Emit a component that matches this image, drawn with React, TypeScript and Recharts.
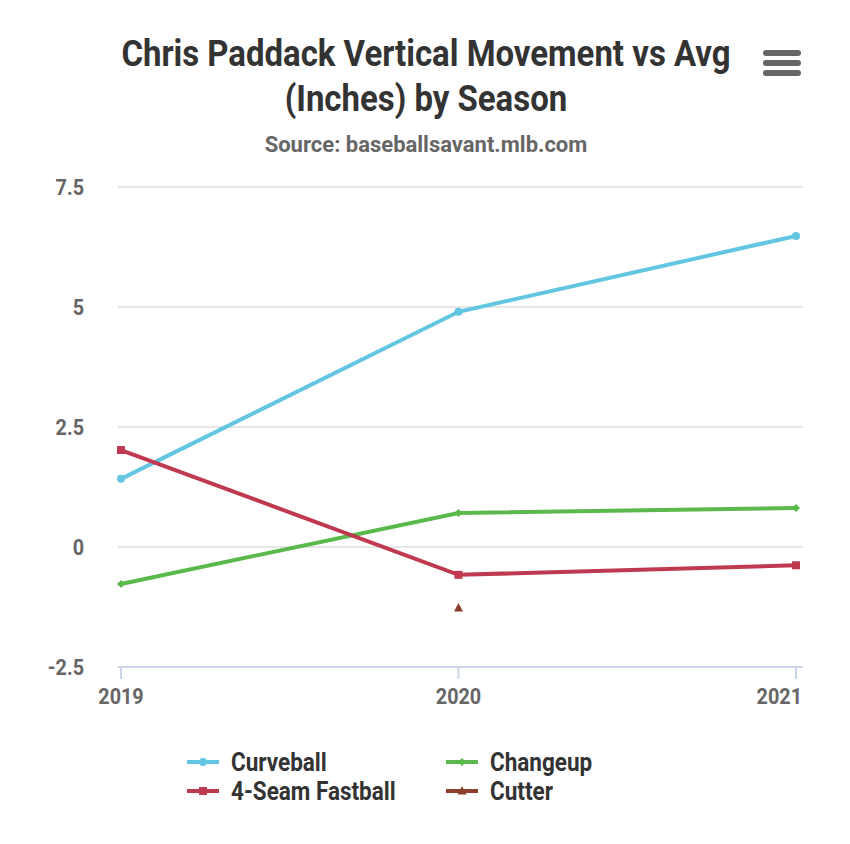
import React from "react"
import { LineChart, Line, XAxis, YAxis, CartesianGrid } from "recharts"

const seasons = ["2019", "2020", "2021"]
const curveball = [1.42, 4.9, 6.48]
const fastball = [2.02, -0.58, -0.38]
const changeup = [-0.77, 0.71, 0.81]
const cutter = [null, -1.27, null]
const yTicks = [-2.5, 0, 2.5, 5, 7.5]

// no condensed Roboto offline, so squeeze plain Roboto a bit
const FONT = "Roboto, sans-serif"
const SQ = 0.9

const data = seasons.map((s, i) => ({
  season: s,
  curveball: curveball[i],
  fastball: fastball[i],
  changeup: changeup[i],
  cutter: cutter[i],
}))

const series = [
  { key: "curveball", name: "Curveball", color: "#63c6e1", shape: "circle" },
  { key: "changeup", name: "Changeup", color: "#5bb84c", shape: "diamond" },
  { key: "fastball", name: "4-Seam Fastball", color: "#bf3a50", shape: "square" },
  { key: "cutter", name: "Cutter", color: "#8c3f2a", shape: "triangle" },
]

function marker(shape: string, color: string) {
  return (props: any) => {
    const { cx, cy, index } = props
    if (cx == null || cy == null || props.value == null) return <g key={index} />
    if (shape === "circle") return <circle key={index} cx={cx} cy={cy} r={4} fill={color} />
    if (shape === "square") return <rect key={index} x={cx - 4} y={cy - 4} width={8} height={8} fill={color} />
    if (shape === "diamond")
      return <path key={index} d={`M${cx} ${cy - 4}L${cx + 4} ${cy}L${cx} ${cy + 4}L${cx - 4} ${cy}Z`} fill={color} />
    return <path key={index} d={`M${cx} ${cy - 5}L${cx + 4.5} ${cy + 3.5}L${cx - 4.5} ${cy + 3.5}Z`} fill={color} />
  }
}

// last label is pulled in so it doesn't overflow the plot (like highcharts does)
const XTick = (props: any) => {
  const last = props.index === seasons.length - 1
  return (
    <g transform={`translate(${last ? props.x + 6 : props.x},${props.y}) scale(${SQ},1)`}>
      <text textAnchor={last ? "end" : "middle"} dy="0.71em" fill="#666" fontSize={22} fontWeight={700} fontFamily={FONT}>
        {props.payload.value}
      </text>
    </g>
  )
}

const YTick = (props: any) => (
  <g transform={`translate(${props.x},${props.y}) scale(${SQ},1)`}>
    <text textAnchor="end" dy="0.355em" fill="#666" fontSize={22} fontWeight={700} fontFamily={FONT}>
      {props.payload.value}
    </text>
  </g>
)

function LegendIcon({ shape, color }: { shape: string; color: string }) {
  return (
    <svg width={32} height={12} style={{ marginRight: 12 }}>
      <line x1={0} y1={6} x2={32} y2={6} stroke={color} strokeWidth={4} />
      {marker(shape, color)({ cx: 16, cy: 6, index: 0, value: 1 })}
    </svg>
  )
}

export default function App() {
  return (
    <div style={{ position: "absolute", left: 0, top: 0, width: 850, height: 844, background: "#fff", fontFamily: FONT }}>
      <div
        style={{
          position: "absolute",
          left: 0,
          width: 852,
          top: 32,
          textAlign: "center",
          color: "#333",
          fontWeight: 700,
          fontSize: 36,
          lineHeight: "45px",
          transform: "scaleX(0.915)",
        }}
      >
        Chris Paddack Vertical Movement vs Avg
        <br />
        (Inches) by Season
      </div>
      <div
        style={{
          position: "absolute",
          left: 0,
          width: 852,
          top: 132,
          textAlign: "center",
          color: "#666",
          fontWeight: 700,
          fontSize: 22,
        }}
      >
        Source: baseballsavant.mlb.com
      </div>
      <svg style={{ position: "absolute", left: 763, top: 50 }} width={38} height={28}>
        {[3, 13, 23].map((y) => (
          <line key={y} x1={3} y1={y} x2={35} y2={y} stroke="#666" strokeWidth={6} strokeLinecap="round" />
        ))}
      </svg>
      <div style={{ position: "absolute", left: 0, top: 0 }}>
        <LineChart width={850} height={844} data={data} margin={{ top: 187, right: 47, bottom: 137, left: 0 }}>
          <CartesianGrid vertical={false} stroke="#e6e6e6" strokeWidth={2} />
          <XAxis
            dataKey="season"
            padding={{ left: 3, right: 7 }}
            height={40}
            stroke="#ccd6eb"
            strokeWidth={2}
            tickSize={12}
            tickMargin={9}
            tick={<XTick />}
          />
          <YAxis
            domain={[-2.5, 7.5]}
            ticks={yTicks}
            width={118}
            axisLine={false}
            tickLine={false}
            tickSize={0}
            tickMargin={34}
            tick={<YTick />}
          />
          {series.map((s) => (
            <Line
              key={s.key}
              dataKey={s.key}
              name={s.name}
              stroke={s.color}
              strokeWidth={4}
              dot={marker(s.shape, s.color)}
              activeDot={false}
              isAnimationActive={false}
            />
          ))}
        </LineChart>
      </div>
      <div style={{ position: "absolute", left: 187, top: 749, width: 560, display: "grid", gridTemplateColumns: "259px 260px", rowGap: 3 }}>
        {series.map((s) => (
          <div key={s.key} style={{ display: "flex", alignItems: "center", color: "#333", fontWeight: 700, fontSize: 25, height: 26 }}>
            <LegendIcon shape={s.shape} color={s.color} />
            <span style={{ display: "inline-block", transform: `scaleX(${SQ})`, transformOrigin: "left center", whiteSpace: "nowrap" }}>
              {s.name}
            </span>
          </div>
        ))}
      </div>
    </div>
  )
}
